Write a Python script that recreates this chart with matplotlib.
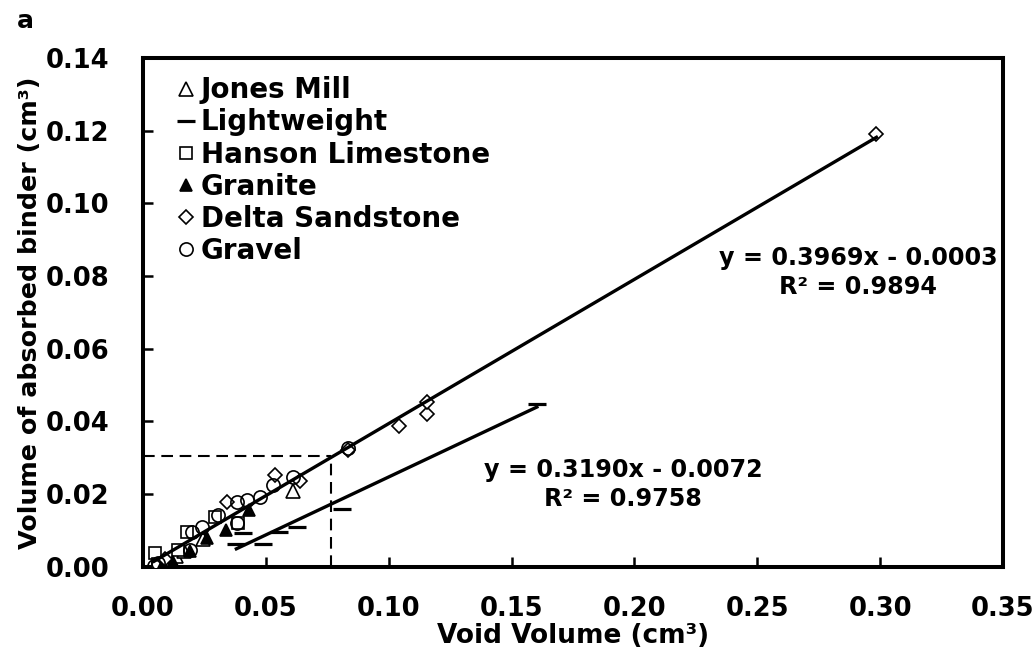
import matplotlib
matplotlib.use("Agg")
import matplotlib.pyplot as plt
import numpy as np

plt.rcParams['font.family'] = ['DejaVu Sans']
plt.rcParams['font.weight'] = 'bold'

# ---- data ----
jones_x = [0.0085, 0.0135, 0.0165, 0.0245, 0.0612]
jones_y = [0.0012, 0.0030, 0.0042, 0.0077, 0.0207]

light_x = [0.0380, 0.0407, 0.0489, 0.0554, 0.0627, 0.0809, 0.1603]
light_y = [0.0063, 0.0093, 0.0063, 0.0096, 0.0110, 0.0160, 0.0449]

hanson_x = [0.0048, 0.0062, 0.0143, 0.0180, 0.0295, 0.0385]
hanson_y = [0.0038, 0.0008, 0.0046, 0.0096, 0.0137, 0.0120]

granite_x = [0.0080, 0.0122, 0.0190, 0.0262, 0.0336, 0.0432]
granite_y = [0.0008, 0.0014, 0.0042, 0.0080, 0.0101, 0.0156]

delta_x = [0.0090, 0.0342, 0.0537, 0.0637, 0.0835, 0.1042, 0.1156, 0.1156, 0.2985]
delta_y = [0.0020, 0.0178, 0.0251, 0.0237, 0.0320, 0.0388, 0.0419, 0.0452, 0.1190]

gravel_x = [0.0045, 0.0060, 0.0190, 0.0200, 0.0240, 0.0305, 0.0383, 0.0383,
            0.0423, 0.0476, 0.0530, 0.0610, 0.0835]
gravel_y = [0.0001, 0.0010, 0.0046, 0.0096, 0.0110, 0.0142, 0.0179, 0.0120,
            0.0184, 0.0193, 0.0225, 0.0248, 0.0327]

fit1_slope, fit1_icpt, fit1_r2 = 0.3969, -0.0003, 0.9894
fit1_range = [0.0045, 0.2985]
fit2_slope, fit2_icpt, fit2_r2 = 0.3190, -0.0072, 0.9758
fit2_range = [0.0380, 0.1603]

guide_x, guide_y = 0.0765, 0.0305

x_ticks = [0.00, 0.05, 0.10, 0.15, 0.20, 0.25, 0.30, 0.35]
y_ticks = [0.00, 0.02, 0.04, 0.06, 0.08, 0.10, 0.12, 0.14]

# ---- figure ----
W, H = 1033, 660
fig = plt.figure(figsize=(W / 100, H / 100), dpi=100)
ax = fig.add_axes([143 / W, 1 - 566.7 / H, 860 / W, (566.7 - 58) / H])

mk = dict(linestyle='none', markeredgecolor='black', markeredgewidth=1.2)
ax.plot(jones_x, jones_y, marker='^', markersize=9.5, markerfacecolor='white',
        label='Jones Mill', zorder=3, **mk)
ax.plot(light_x, light_y, marker='_', markersize=13, markeredgewidth=2.3,
        linestyle='none', color='black', label='Lightweight', zorder=3)
ax.plot(hanson_x, hanson_y, marker='s', markersize=8.5, markerfacecolor='white',
        label='Hanson Limestone', zorder=3, **mk)
ax.plot(granite_x, granite_y, marker='^', markersize=9, markerfacecolor='black',
        label='Granite', zorder=3, **mk)
ax.plot(delta_x, delta_y, marker='D', markersize=7, markerfacecolor='white',
        label='Delta Sandstone', zorder=3, **mk)
ax.plot(gravel_x, gravel_y, marker='o', markersize=9.5, markerfacecolor='none',
        label='Gravel', zorder=3, **mk)

# trend lines
fx1 = np.array(fit1_range)
ax.plot(fx1, fit1_slope * fx1 + fit1_icpt, color='black', lw=2.4, zorder=4)
fx2 = np.array(fit2_range)
ax.plot(fx2, fit2_slope * fx2 + fit2_icpt, color='black', lw=2.4, zorder=4)

# dashed guides
ax.plot([0, guide_x], [guide_y, guide_y], color='black', lw=1.5,
        linestyle=(0, (5.6, 3.2)), zorder=2)
ax.plot([guide_x, guide_x], [0, guide_y], color='black', lw=1.5,
        linestyle=(0, (5.6, 3.2)), zorder=2)

# equations
ax.text(0.2910, 0.0810,
        f"y = {fit1_slope:.4f}x - {abs(fit1_icpt):.4f}\nR² = {fit1_r2:.4f}",
        ha='center', va='center', multialignment='center',
        fontsize=17.2, fontweight='bold', linespacing=1.25)
ax.text(0.1955, 0.0226,
        f"y = {fit2_slope:.4f}x - {abs(fit2_icpt):.4f}\nR² = {fit2_r2:.4f}",
        ha='center', va='center', multialignment='center',
        fontsize=17.2, fontweight='bold', linespacing=1.25)

ax.set_xlim(0, 0.35)
ax.set_ylim(0, 0.14)
ax.set_xticks(x_ticks)
ax.set_yticks(y_ticks)
ax.set_xticklabels([f"{v:.2f}" for v in x_ticks])
ax.set_yticklabels([f"{v:.2f}" for v in y_ticks])
ax.tick_params(direction='in', length=7, width=1.8, labelsize=18.5, pad=21)
ax.tick_params(axis='y', pad=24)
for lab in ax.get_xticklabels() + ax.get_yticklabels():
    lab.set_fontweight('bold')
for sp in ax.spines.values():
    sp.set_linewidth(2.9)

ax.set_xlabel('Void Volume (cm³)', fontsize=19, fontweight='bold')
ax.set_ylabel('Volume of absorbed binder (cm³)', fontsize=18.3, fontweight='bold')
ax.xaxis.set_label_coords(0.5, -0.11)
ax.yaxis.set_label_coords(-0.118, 0.5)

leg = ax.legend(loc='upper left', bbox_to_anchor=(0.039, 0.964), frameon=False,
                prop={'weight': 'bold', 'size': 20},
                handlelength=0.65, handletextpad=0.22, labelspacing=0.15,
                borderpad=0, borderaxespad=0, markerscale=1.0)

fig.text(17 / W, 1 - 28 / H, 'a', fontsize=18, fontweight='bold',
         ha='left', va='baseline')

fig.savefig('out.png', dpi=100)
